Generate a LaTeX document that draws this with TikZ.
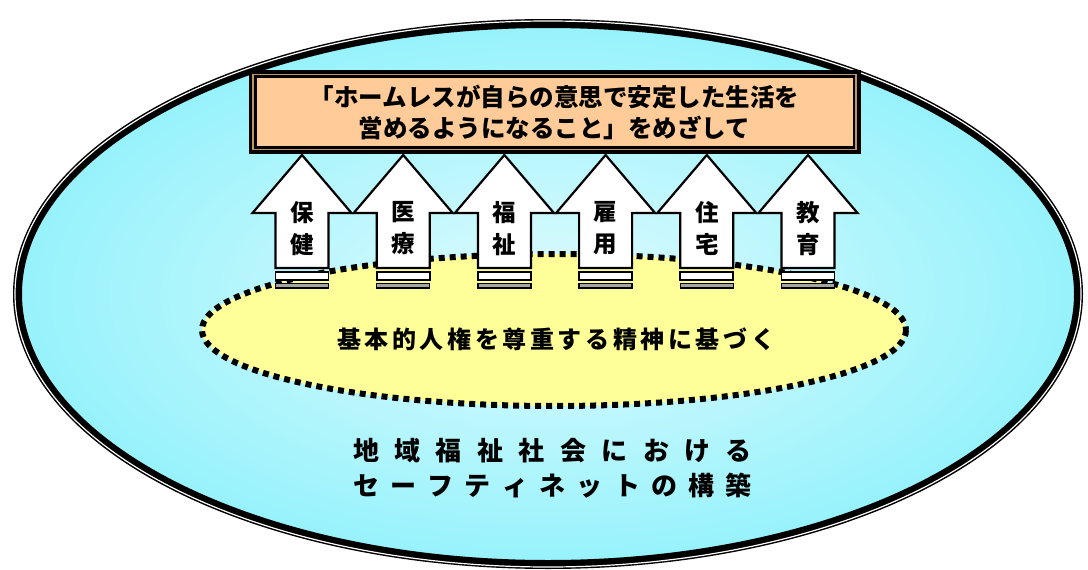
\documentclass[tikz,border=0pt]{standalone}
\usepackage{fontspec}
\newfontfamily\jp{Noto Sans CJK JP}
\makeatletter
\newcommand\jspread[2]{\makebox[#1][s]{\jsp@#2\relax}}
\def\jsp@#1{\ifx\relax#1\else#1\expandafter\jsp@@\fi}
\def\jsp@@#1{\ifx\relax#1\else\hfil#1\expandafter\jsp@@\fi}
\makeatother
\definecolor{peach}{RGB}{255,204,153}
\definecolor{paleyellow}{RGB}{255,255,153}
\definecolor{tanline}{RGB}{190,150,100}
\definecolor{bargray}{RGB}{165,165,165}
\definecolor{cyanout}{RGB}{150,242,252}
\definecolor{cyanin}{RGB}{222,251,253}
\tikzset{
  arrowshape/.style={draw=black, line width=2.2pt, fill=white, line join=miter},
  barw/.style={draw=black, line width=1.8pt, fill=white},
  barg/.style={draw=black, line width=1.5pt, fill=bargray},
  lbl/.style={font={\jp\bfseries\fontsize{23.5}{32}\selectfont}, align=center, inner sep=0pt},
  boxtext/.style={font={\jp\bfseries\fontsize{24.5}{31}\selectfont}, align=center, inner sep=0pt},
  midtext/.style={font={\jp\bfseries\fontsize{24}{30}\selectfont}, inner sep=0pt},
  bottext/.style={font={\jp\bfseries\fontsize{26}{35}\selectfont}, align=center, inner sep=0pt}
}
\begin{document}
\begin{tikzpicture}[x=1pt,y=-1pt]
\useasboundingbox (0,0) rectangle (1088,570);
% outer ellipse
\shade[inner color=cyanin, outer color=cyanout] (548,294) ellipse [x radius=531, y radius=271];
\draw[line width=9pt] (548,294) ellipse [x radius=530.5, y radius=270.5];
\draw[line width=1.2pt, white] (548,294) ellipse [x radius=533, y radius=273];
% yellow ellipse
\fill[paleyellow] (554,330) ellipse [x radius=352, y radius=76];
\draw[line width=6pt, dash pattern=on 6pt off 5pt] (554,330) ellipse [x radius=352, y radius=76];
% arrows
\foreach \a/\b [count=\i from 0] in {保/健,医/療,福/祉,雇/用,住/宅,教/育} {
  \pgfmathsetmacro\cx{302+101.2*\i}
  \draw[arrowshape] (\cx,155) -- (\cx+49.5,213) -- (\cx+26.5,213) -- (\cx+26.5,268)
     -- (\cx-26.5,268) -- (\cx-26.5,213) -- (\cx-49.5,213) -- cycle;
  \draw[barw] (\cx-26.5,272) rectangle (\cx+26.5,280);
  \draw[barg] (\cx-26.5,283.5) rectangle (\cx+26.5,288);
  \node[lbl] (lab\i) at (\cx,228.5) {\a\\\b};
}
% top box
\fill[peach] (249,70) rectangle (860,154);
\draw[line width=8pt] (252.5,74) rectangle (856.5,150);
\draw[line width=1.5pt, tanline] (253.2,74.7) rectangle (855.8,149.3);
\node[boxtext] (goal) at (554.5,112.5) {「ホームレスが自らの意思で安定した生活を\\営めるようになること」をめざして};
% middle text
\node[midtext] (basis) at (556,339) {\jspread{438pt}{基本的人権を尊重する精神に基づく}};
% bottom text
\node[bottext] (title) at (552.5,468.5) {\jspread{399pt}{地域福祉社会における}\\\jspread{399pt}{セーフティネットの構築}};
\end{tikzpicture}
\end{document}
